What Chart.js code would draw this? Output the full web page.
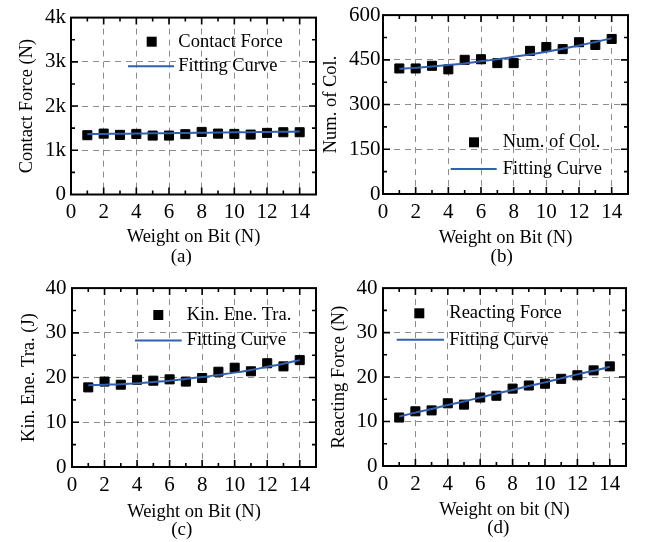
<!DOCTYPE html>
<html>
<head>
<meta charset="utf-8">
<script src="https://cdn.jsdelivr.net/npm/chart.js@4.4.1/dist/chart.umd.min.js"></script>
<style>
  html, body { margin: 0; padding: 0; background: #fff; }
  #fig { position: relative; width: 649px; height: 542px; overflow: hidden; }
  #fig canvas { position: absolute; }
</style>
</head>
<body>
<div id="fig">
  <canvas id="panelA" width="325" height="270" style="left:0;top:0"></canvas>
  <canvas id="panelB" width="331" height="270" style="left:318px;top:0"></canvas>
  <canvas id="panelC" width="325" height="272" style="left:0;top:270px"></canvas>
  <canvas id="panelD" width="331" height="272" style="left:318px;top:270px"></canvas>
</div>
<script>
// weight on bit (N), shared x values of all four panels
const weightOnBit = [1, 2, 3, 4, 5, 6, 7, 8, 9, 10, 11, 12, 13, 14];

const contactForce    = [1341, 1377, 1348, 1370, 1332, 1332, 1364, 1415, 1377, 1370, 1355, 1393, 1408, 1408];
const contactForceFit = [1365, 1369, 1374, 1378, 1383, 1387, 1392, 1396, 1400, 1405, 1409, 1414, 1418, 1422];

const numCollisions    = [421, 421, 430, 418, 450, 452, 439, 439, 480, 493, 486, 509, 500, 520];
const numCollisionsFit = [420, 423, 428, 433, 438, 445, 452, 460, 468, 477, 487, 498, 510, 522];

const kineticEnergy    = [17.8, 19.1, 18.4, 19.5, 19.3, 19.6, 19.1, 19.9, 21.3, 22.2, 21.4, 23.2, 22.5, 23.9];
const kineticEnergyFit = [18.3, 18.4, 18.5, 18.7, 19.0, 19.3, 19.7, 20.1, 20.6, 21.1, 21.7, 22.4, 23.1, 23.9];

const reactingForce    = [10.9, 12.3, 12.5, 14.1, 13.8, 15.4, 15.8, 17.4, 18.1, 18.5, 19.6, 20.4, 21.5, 22.4];
const reactingForceFit = [11.1, 12.0, 12.8, 13.7, 14.5, 15.4, 16.3, 17.1, 18.0, 18.8, 19.7, 20.6, 21.4, 22.3];

const contactForceTicks = ['0', '1k', '2k', '3k', '4k'];

Chart.defaults.font.family = '"Liberation Serif", "Times New Roman", serif';
Chart.defaults.color = '#000';

const FIT_BLUE = '#3160b0';
const SERIF = '"Liberation Serif", "Times New Roman", serif';

// inward tick marks on all four sides plus the black box
const boxFrame = {
  id: 'boxFrame',
  afterDraw(chart) {
    const { ctx, chartArea: { left, right, top, bottom }, scales: { x, y } } = chart;
    const marks = (scale) => {
      const major = scale.ticks.map(t => t.value);
      const step = major[1] - major[0];
      const minor = major.map(v => v + step / 2).filter(v => v < scale.max);
      return { major, minor };
    };
    ctx.save();
    ctx.strokeStyle = '#000';
    ctx.lineWidth = 1.6;
    ctx.beginPath();
    const mx = marks(x), my = marks(y);
    [[mx.major, 7], [mx.minor, 4]].forEach(([vals, len]) => {
      vals.forEach(v => {
        if (v <= x.min || v >= x.max) return;
        const px = x.getPixelForValue(v);
        ctx.moveTo(px, bottom); ctx.lineTo(px, bottom - len);
        ctx.moveTo(px, top); ctx.lineTo(px, top + len);
      });
    });
    [[my.major, 7], [my.minor, 4]].forEach(([vals, len]) => {
      vals.forEach(v => {
        if (v <= y.min || v >= y.max) return;
        const py = y.getPixelForValue(v);
        ctx.moveTo(left, py); ctx.lineTo(left + len, py);
        ctx.moveTo(right, py); ctx.lineTo(right - len, py);
      });
    });
    ctx.stroke();
    ctx.lineWidth = 2;
    ctx.strokeRect(left, top, right - left, bottom - top);
    ctx.restore();
  }
};

// legend box drawn inside the plot area, plus the "(a)" style caption
const insideLegend = {
  id: 'insideLegend',
  afterDraw(chart, args, opts) {
    const { ctx } = chart;
    const [pts, fit] = chart.data.datasets;
    ctx.save();
    ctx.font = `18.5px ${SERIF}`;
    ctx.fillStyle = '#000';
    ctx.textBaseline = 'middle';
    ctx.textAlign = 'left';
    ctx.fillRect(opts.markX - 5, opts.row1 - 5, 10, 10);
    ctx.fillText(pts.label, opts.textX, opts.row1);
    ctx.strokeStyle = fit.borderColor;
    ctx.lineWidth = fit.borderWidth;
    ctx.beginPath();
    ctx.moveTo(opts.lineX1, opts.row2);
    ctx.lineTo(opts.lineX2, opts.row2);
    ctx.stroke();
    ctx.fillText(fit.label, opts.textX, opts.row2);
    ctx.textAlign = 'center';
    ctx.font = `19px ${SERIF}`;
    ctx.fillText(opts.caption, opts.capX, opts.capY);
    ctx.restore();
  }
};

function makePanel(id, cfg) {
  const points = weightOnBit.map((w, i) => ({ x: w, y: cfg.values[i] }));
  const curve = weightOnBit.map((w, i) => ({ x: w, y: cfg.fit[i] }));
  return new Chart(document.getElementById(id), {
    type: 'scatter',
    data: {
      datasets: [
        {
          label: cfg.label,
          data: points,
          pointStyle: 'rect',
          pointRadius: 6.4,
          pointBorderWidth: 1,
          backgroundColor: '#000',
          borderColor: '#000',
          order: 2
        },
        {
          label: 'Fitting Curve',
          data: curve,
          showLine: true,
          pointRadius: 0,
          borderColor: FIT_BLUE,
          borderWidth: 2,
          cubicInterpolationMode: 'monotone',
          order: 1
        }
      ]
    },
    options: {
      responsive: false,
      animation: false,
      layout: { padding: { left: 0, top: cfg.padTop, right: cfg.padRight, bottom: 0 } },
      scales: {
        x: {
          type: 'linear',
          min: 0,
          max: 15,
          afterFit: s => { s.height = cfg.xHeight; },
          ticks: { stepSize: 2, includeBounds: false, padding: 5.5, font: { size: 21 } },
          grid: { color: '#8c8c8c', lineWidth: 1, drawTicks: false },
          border: { display: false, dash: [6, 5] },
          title: { display: true, text: cfg.xTitle, font: { size: 18.5 }, padding: { top: 0, bottom: cfg.xTitlePad } }
        },
        y: {
          min: 0,
          max: cfg.yMax,
          afterFit: s => { s.width = cfg.yWidth; },
          ticks: {
            stepSize: cfg.yStep,
            padding: cfg.yTickPad,
            font: { size: 21 },
            callback: cfg.yLabels ? (v, i) => cfg.yLabels[i] : undefined
          },
          grid: { color: '#8c8c8c', lineWidth: 1, drawTicks: false },
          border: { display: false, dash: [6, 5] },
          title: { display: true, text: cfg.yTitle, font: { size: 18.5 }, padding: { top: cfg.yTitlePad, bottom: 0 } }
        }
      },
      plugins: {
        legend: { display: false },
        tooltip: { enabled: false },
        insideLegend: cfg.legend
      }
    },
    plugins: [boxFrame, insideLegend]
  });
}

makePanel('panelA', {
  label: 'Contact Force', values: contactForce, fit: contactForceFit,
  yMax: 4000, yStep: 1000, yLabels: contactForceTicks,
  xTitle: 'Weight on Bit (N)', yTitle: 'Contact Force (N)',
  padTop: 15, padRight: 9, yWidth: 71, xHeight: 75.5,
  yTickPad: 5, yTitlePad: 16.4, xTitlePad: 22.2,
  legend: { markX: 151.7, lineX1: 128, lineX2: 174, textX: 178.3, row1: 41.7, row2: 66.2,
            caption: '(a)', capX: 181.3, capY: 256.7 }
});

makePanel('panelB', {
  label: 'Num. of Col.', values: numCollisions, fit: numCollisionsFit,
  yMax: 600, yStep: 150,
  xTitle: 'Weight on Bit (N)', yTitle: 'Num. of Col.',
  padTop: 15, padRight: 21, yWidth: 65, xHeight: 76,
  yTickPad: 2.5, yTitlePad: 1.7, xTitlePad: 20.6,
  legend: { markX: 156, lineX1: 132.7, lineX2: 178.7, textX: 184.7, row1: 142.3, row2: 169,
            caption: '(b)', capX: 183.7, capY: 257.3 }
});

makePanel('panelC', {
  label: 'Kin. Ene. Tra.', values: kineticEnergy, fit: kineticEnergyFit,
  yMax: 40, yStep: 10,
  xTitle: 'Weight on Bit (N)', yTitle: 'Kin. Ene. Tra. (J)',
  padTop: 17, padRight: 9, yWidth: 72, xHeight: 75,
  yTickPad: 5.5, yTitlePad: 18.1, xTitlePad: 19.2,
  legend: { markX: 158.3, lineX1: 135, lineX2: 181.7, textX: 186.7, row1: 45, row2: 70.5,
            caption: '(c)', capX: 181.7, capY: 260 }
});

makePanel('panelD', {
  label: 'Reacting Force', values: reactingForce, fit: reactingForceFit,
  yMax: 40, yStep: 10,
  xTitle: 'Weight on bit (N)', yTitle: 'Reacting Force (N)',
  padTop: 16, padRight: 23, yWidth: 65, xHeight: 76,
  yTickPad: 5.5, yTitlePad: 10.1, xTitlePad: 20.9,
  legend: { markX: 101.3, lineX1: 78.7, lineX2: 126, textX: 131.3, row1: 43.3, row2: 69.7,
            caption: '(d)', capX: 180.3, capY: 258 }
});
</script>
</body>
</html>
